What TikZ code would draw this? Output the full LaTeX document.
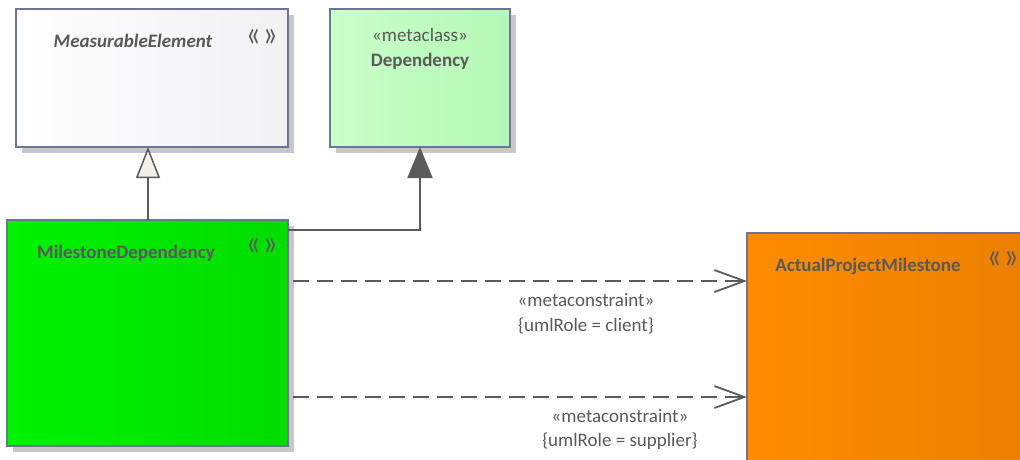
\documentclass[tikz,border=0pt]{standalone}
\usepackage{graphicx}
\usepackage{fontspec}
\setmainfont{Carlito}
\usetikzlibrary{arrows.meta,shadows,calc}
\definecolor{edge}{HTML}{6C7595}
\definecolor{ink}{HTML}{595959}
\definecolor{lne}{HTML}{5A5A5A}
\definecolor{genfill}{HTML}{F5EFEA}
\pgfdeclarehorizontalshading{meshade}{100bp}{rgb(0bp)=(0.93,0.93,0.94); rgb(22bp)=(1,1,1); rgb(100bp)=(0.92,0.92,0.94)}
\pgfdeclarehorizontalshading{depshade}{100bp}{rgb(0bp)=(0.69,0.95,0.69); rgb(22bp)=(0.80,1,0.80); rgb(100bp)=(0.66,0.96,0.66)}
\pgfdeclarehorizontalshading{mdshade}{100bp}{rgb(0bp)=(0,0.85,0); rgb(22bp)=(0,0.96,0); rgb(100bp)=(0,0.82,0)}
\pgfdeclarehorizontalshading{apmshade}{100bp}{rgb(0bp)=(0.90,0.51,0); rgb(26bp)=(1,0.55,0); rgb(100bp)=(0.88,0.47,0)}
\newcommand{\stsym}{\scalebox{1}[1.4]{«\hspace{3pt}»}}
\tikzset{
  box/.style={draw=edge, line width=1.3pt, shade, inner sep=0pt, outer sep=0pt,
    drop shadow={shadow xshift=6pt, shadow yshift=-6pt, fill=black!22, opacity=1}},
  txt/.style={text=ink, inner sep=0pt, font=\fontsize{19}{23}\selectfont},
  ttl/.style={txt, font=\fontsize{19}{23}\selectfont\bfseries},
  sym/.style={text=ink, inner sep=0pt, font=\fontsize{28}{30}\selectfont},
  conn/.style={draw=lne, line width=1.8pt},
  dep/.style={conn, dash pattern=on 16pt off 8pt, -{Straight Barb[length=30pt,width=22pt,line width=1.8pt]}},
}
\begin{document}
\begin{tikzpicture}[x=1pt,y=-1pt]
\useasboundingbox (0,0) rectangle (1020,459);
\clip (0,0) rectangle (1020,459);
% boxes
\node[box, shading=meshade, minimum width=272pt, minimum height=138pt] (me) at (152,78) {};
\node[box, shading=depshade, minimum width=180pt, minimum height=138pt] (dep) at (420,78) {};
\node[box, shading=mdshade, minimum width=281pt, minimum height=226pt] (md) at (147.5,333) {};
\node[box, shading=apmshade, minimum width=290pt, minimum height=240pt] (apm) at (892,353) {};
% titles
\node[txt, font=\fontsize{19}{23}\selectfont\bfseries\itshape] (metitle) at (133,41) {MeasurableElement};
\node[sym] (mesym) at (262,38) {\stsym};
\node[txt] (depster) at (420,35) {«metaclass»};
\node[ttl] (deptitle) at (420,61) {Dependency};
\node[ttl] (mdtitle) at (126,253) {MilestoneDependency};
\node[sym] (mdsym) at (262,247) {\stsym};
\node[ttl] (apmtitle) at (868,266) {ActualProjectMilestone};
\node[sym] (apmsym) at (1003,260) {\stsym};
% connector points
\coordinate (g1) at (148,220);
\coordinate (g2) at (148,147);
\coordinate (x1) at (288,230);
\coordinate (x2) at (420,147);
\coordinate (c1) at (293,281);
\coordinate (c2) at (747,281);
\coordinate (s1) at (293,397);
\coordinate (s2) at (747,397);
% generalization
\draw[conn, -{Triangle[width=24pt,length=31pt,fill=genfill,line width=1.5pt]}] (g1) -- (g2);
% extension
\draw[conn, -{Triangle[width=25pt,length=31pt,fill=lne]}] (x1) -| (x2);
% metaconstraints
\draw[dep] (c1) -- (c2);
\draw[dep] (s1) -- (s2);
\node[txt] (l1a) at (586,300) {«metaconstraint»};
\node[txt] (l1b) at (586,326) {\{umlRole = client\}};
\node[txt] (l2a) at (620,416) {«metaconstraint»};
\node[txt] (l2b) at (620,441) {\{umlRole = supplier\}};
\end{tikzpicture}
\end{document}
